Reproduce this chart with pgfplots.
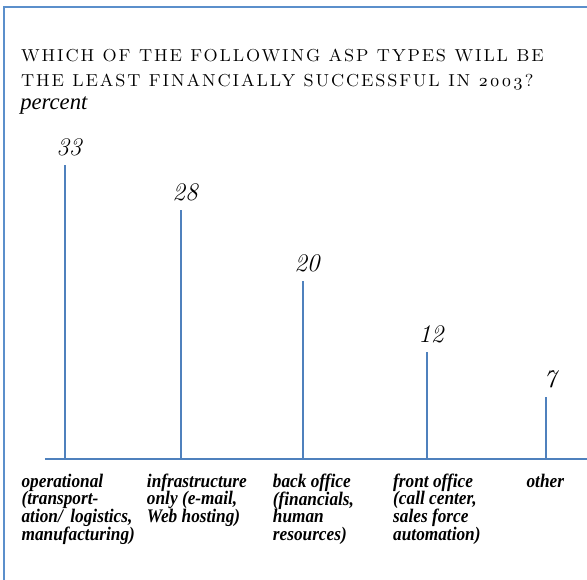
\documentclass[border=0pt]{standalone}
\usepackage{fontspec}
\usepackage{pgfplots}
\pgfplotsset{compat=1.18}
\newfontfamily\catfont{Liberation Serif}[FakeStretch=0.9]
\newfontfamily\pctfont{Liberation Serif}
\newfontfamily\titlefont{lmromancaps10-regular.otf}[LetterSpace=8,Numbers=OldStyle]
\definecolor{stem}{HTML}{4F81BD}
\definecolor{frame}{HTML}{5B8FCB}
\begin{document}
\begin{tikzpicture}
\path[use as bounding box] (0,0) rectangle (440.25pt,435pt);
\draw[frame, line width=1.1pt] (3pt,0) -- (3pt,429.75pt) -- (441pt,429.75pt);
\node[anchor=base west, inner sep=0pt, font=\titlefont\fontsize{13}{18}\selectfont] at (15.5pt,388.5pt) {WHICH OF THE FOLLOWING ASP TYPES WILL BE};
\node[anchor=base west, inner sep=0pt, font=\titlefont\fontsize{13}{18}\selectfont] at (15.5pt,369.75pt) {THE LEAST FINANCIALLY SUCCESSFUL IN 2003?};
\node[anchor=base west, inner sep=0pt, font=\pctfont\itshape\fontsize{17}{18}\selectfont] at (15pt,352.5pt) {percent};
\begin{axis}[
  at={(33.75pt,90.75pt)}, anchor=south west,
  scale only axis, width=406.5pt, height=233.6pt,
  xmin=-0.1663, xmax=4.341, ymin=0, ymax=35,
  axis x line=bottom, axis y line=none,
  x axis line style={-, draw=stem, line width=1.1pt},
  xtick={0,0.965,1.979,3.010,4}, major tick length=0pt,
  ytick=\empty,
  xticklabels={
    {\hspace*{-8pt}\begin{tabular}{@{}l@{}}operational\\(transport-\\ation/\, logistics,\\manufacturing)\end{tabular}},
    {\hspace*{-1pt}\begin{tabular}{@{}l@{}}infrastructure\\only (e-mail,\\Web hosting)\end{tabular}},
    {\hspace*{2pt}\begin{tabular}{@{}l@{}}back office\\(financials,\\human\\resources)\end{tabular}},
    {\hspace*{-0.75pt}\begin{tabular}{@{}l@{}}front office\\(call center,\\sales force\\automation)\end{tabular}},
    {\hspace*{10pt}\begin{tabular}{@{}l@{}}other\end{tabular}}
  },
  xticklabel style={anchor=north west, inner sep=0pt, xshift=-24.75pt, yshift=-11pt,
    font=\catfont\bfseries\itshape\fontsize{14.4}{10.5}\selectfont},
  clip=false,
  /pgf/number format/assume math mode=true,
  nodes near coords,
  every node near coord/.append style={font=\itshape\fontsize{19}{20}\selectfont, anchor=base, yshift=7pt, xshift=3pt, text=black},
]
\addplot[ycomb, draw=stem, line width=1.2pt, mark=none] coordinates {(0,33) (0.965,28) (1.979,20) (3.010,12) (4,7)};
\end{axis}
\end{tikzpicture}
\end{document}
